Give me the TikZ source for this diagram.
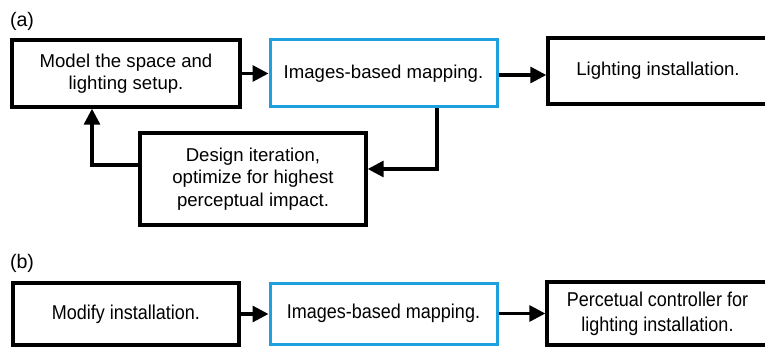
\documentclass[tikz,border=0pt]{standalone}
\usepackage{fontspec}
\setmainfont{Liberation Sans}
\newfontfamily\narrowfont[FakeStretch=0.9]{Liberation Sans}
\usetikzlibrary{positioning,arrows.meta,calc}
\definecolor{mapblue}{RGB}{28,160,222}

\begin{document}
\begin{tikzpicture}[x=0.5pt,y=-0.5pt,
		step_box/.style={draw=black,line width=1.7pt,fill=white,align=center,inner sep=0pt,font=\fontsize{9.3}{11.3}\selectfont},
		map_box/.style={step_box,draw=mapblue,line width=1.5pt},
		narrow_text/.style={font=\narrowfont\fontsize{10}{12.4}\selectfont},
		flow_edge/.style={line width=1.6pt,-{Triangle[length=8pt,width=8pt]}},
		panel_label/.style={font=\fontsize{9.8}{11}\selectfont}
		]
		
		\clip (0,0) rectangle (765,347);
		\useasboundingbox (0,0) rectangle (765,347);
		
		% (a)
		\node[panel_label] (lab_a) at (22,21) {(a)};
		\node[step_box, minimum width=114pt, minimum height=33.5pt] (model) at (126,73.5) {Model the space and\\lighting setup.};
		\node[map_box, minimum width=113.5pt, minimum height=33.5pt] (map_a) at (383.5,73.5) {Images-based mapping.};
		\node[step_box, minimum width=110pt, minimum height=33pt] (install) at (658,71) {Lighting installation.};
		\node[step_box, minimum width=113pt, minimum height=46pt] (design) at (253,179) {Design iteration,\\optimize for highest\\perceptual impact.};
		
		\draw[flow_edge] (model.east) -- (model.east -| map_a.west);
		\draw[flow_edge] ([yshift=-0.75pt]map_a.east) -- ([yshift=-0.75pt]map_a.east -| install.west);
		\draw[flow_edge] ([xshift=26.75pt]map_a.south) |- ([yshift=5pt]design.east);
		\draw[flow_edge] ([yshift=7pt]design.west) -| ([xshift=-17pt]model.south);
		
		% (b)
		\node[panel_label] (lab_b) at (22,263) {(b)};
		\node[step_box, narrow_text, minimum width=113pt, minimum height=31pt] (modify) at (126,314) {Modify installation.};
		\node[map_box, narrow_text, minimum width=113.5pt, minimum height=30.5pt] (map_b) at (383.5,313.5) {Images-based mapping.};
		\node[step_box, narrow_text, minimum width=110.5pt, minimum height=31.5pt] (control) at (657.5,313.5) {Percetual controller for\\lighting installation.};
		
		\draw[flow_edge] (modify.east) -- (modify.east -| map_b.west);
		\draw[flow_edge] (map_b.east) -- (map_b.east -| control.west);
	\end{tikzpicture}
\end{document}
